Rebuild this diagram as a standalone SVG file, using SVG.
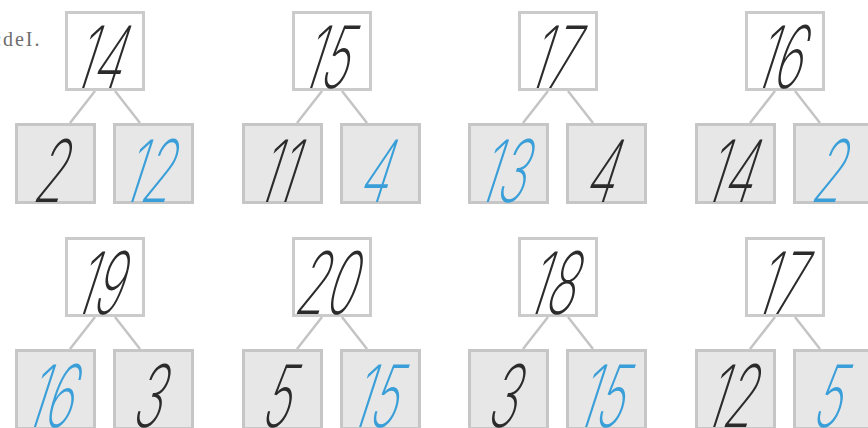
<svg xmlns="http://www.w3.org/2000/svg" width="868" height="428" viewBox="0 0 868 428">
<style>
.t{fill:#fff;stroke:#cbcbcb;stroke-width:3}
.b{fill:#e7e7e7;stroke:#c6c6c6;stroke-width:3}
.c line{stroke:#c4c4c4;stroke-width:2.5}
.n{font-family:Inter,"Liberation Sans",sans-serif;font-weight:200;font-size:86px;text-anchor:middle}
.k{fill:#2b2b2b}
.u{fill:#3a9fd8}
.h{font-family:"Liberation Serif",serif;font-size:20px;fill:#6e6e6e;letter-spacing:2px}
</style>
<rect width="868" height="428" fill="#fff"/>
<text class="h" x="-8" y="46">cdeI.</text>
<g class="c" id="connectors">
<line x1="95" y1="91" x2="70" y2="123"/><line x1="115" y1="91" x2="140" y2="123"/>
<line x1="322" y1="91" x2="297" y2="123"/><line x1="342" y1="91" x2="367" y2="123"/>
<line x1="548" y1="91" x2="523" y2="123"/><line x1="568" y1="91" x2="593" y2="123"/>
<line x1="775" y1="91" x2="750" y2="123"/><line x1="795" y1="91" x2="820" y2="123"/>
<line x1="95" y1="317" x2="70" y2="349"/><line x1="115" y1="317" x2="140" y2="349"/>
<line x1="322" y1="317" x2="297" y2="349"/><line x1="342" y1="317" x2="367" y2="349"/>
<line x1="548" y1="317" x2="523" y2="349"/><line x1="568" y1="317" x2="593" y2="349"/>
<line x1="775" y1="317" x2="750" y2="349"/><line x1="795" y1="317" x2="820" y2="349"/>
</g>
<!-- row 1 -->
<g id="n1"><rect class="t" x="66.5" y="12.5" width="77" height="77"/><text class="n k" transform="translate(95,88) skewX(-18) scale(0.56,1)">14</text></g>
<g id="n1a"><rect class="b" x="16.5" y="124.5" width="78" height="78"/><text class="n k" transform="translate(46,202) skewX(-18) scale(0.56,1)">2</text></g>
<g id="n1b"><rect class="b" x="114.5" y="124.5" width="78" height="78"/><text class="n u" transform="translate(144,202) skewX(-18) scale(0.56,1)">12</text></g>

<g id="n2"><rect class="t" x="293.5" y="12.5" width="77" height="77"/><text class="n k" transform="translate(322,88) skewX(-18) scale(0.56,1)">15</text></g>
<g id="n2a"><rect class="b" x="243.5" y="124.5" width="78" height="78"/><text class="n k" transform="translate(273,202) skewX(-18) scale(0.56,1)">11</text></g>
<g id="n2b"><rect class="b" x="341.5" y="124.5" width="78" height="78"/><text class="n u" transform="translate(371,202) skewX(-18) scale(0.56,1)">4</text></g>

<g id="n3"><rect class="t" x="519.5" y="12.5" width="77" height="77"/><text class="n k" transform="translate(548,88) skewX(-18) scale(0.56,1)">17</text></g>
<g id="n3a"><rect class="b" x="469.5" y="124.5" width="78" height="78"/><text class="n u" transform="translate(499,202) skewX(-18) scale(0.56,1)">13</text></g>
<g id="n3b"><rect class="b" x="567.5" y="124.5" width="78" height="78"/><text class="n k" transform="translate(597,202) skewX(-18) scale(0.56,1)">4</text></g>

<g id="n4"><rect class="t" x="746.5" y="12.5" width="77" height="77"/><text class="n k" transform="translate(775,88) skewX(-18) scale(0.56,1)">16</text></g>
<g id="n4a"><rect class="b" x="696.5" y="124.5" width="78" height="78"/><text class="n k" transform="translate(726,202) skewX(-18) scale(0.56,1)">14</text></g>
<g id="n4b"><rect class="b" x="794.5" y="124.5" width="78" height="78"/><text class="n u" transform="translate(824,202) skewX(-18) scale(0.56,1)">2</text></g>
<!-- row 2 -->
<g id="n5"><rect class="t" x="66.5" y="238.5" width="77" height="77"/><text class="n k" transform="translate(95,314) skewX(-18) scale(0.56,1)">19</text></g>
<g id="n5a"><rect class="b" x="16.5" y="350.5" width="78" height="78"/><text class="n u" transform="translate(46,427) skewX(-18) scale(0.56,1)">16</text></g>
<g id="n5b"><rect class="b" x="114.5" y="350.5" width="78" height="78"/><text class="n k" transform="translate(144,427) skewX(-18) scale(0.56,1)">3</text></g>

<g id="n6"><rect class="t" x="293.5" y="238.5" width="77" height="77"/><text class="n k" transform="translate(322,314) skewX(-18) scale(0.56,1)">20</text></g>
<g id="n6a"><rect class="b" x="243.5" y="350.5" width="78" height="78"/><text class="n k" transform="translate(273,427) skewX(-18) scale(0.56,1)">5</text></g>
<g id="n6b"><rect class="b" x="341.5" y="350.5" width="78" height="78"/><text class="n u" transform="translate(371,427) skewX(-18) scale(0.56,1)">15</text></g>

<g id="n7"><rect class="t" x="519.5" y="238.5" width="77" height="77"/><text class="n k" transform="translate(548,314) skewX(-18) scale(0.56,1)">18</text></g>
<g id="n7a"><rect class="b" x="469.5" y="350.5" width="78" height="78"/><text class="n k" transform="translate(499,427) skewX(-18) scale(0.56,1)">3</text></g>
<g id="n7b"><rect class="b" x="567.5" y="350.5" width="78" height="78"/><text class="n u" transform="translate(597,427) skewX(-18) scale(0.56,1)">15</text></g>

<g id="n8"><rect class="t" x="746.5" y="238.5" width="77" height="77"/><text class="n k" transform="translate(775,314) skewX(-18) scale(0.56,1)">17</text></g>
<g id="n8a"><rect class="b" x="696.5" y="350.5" width="78" height="78"/><text class="n k" transform="translate(726,427) skewX(-18) scale(0.56,1)">12</text></g>
<g id="n8b"><rect class="b" x="794.5" y="350.5" width="78" height="78"/><text class="n u" transform="translate(824,427) skewX(-18) scale(0.56,1)">5</text></g>
</svg>
